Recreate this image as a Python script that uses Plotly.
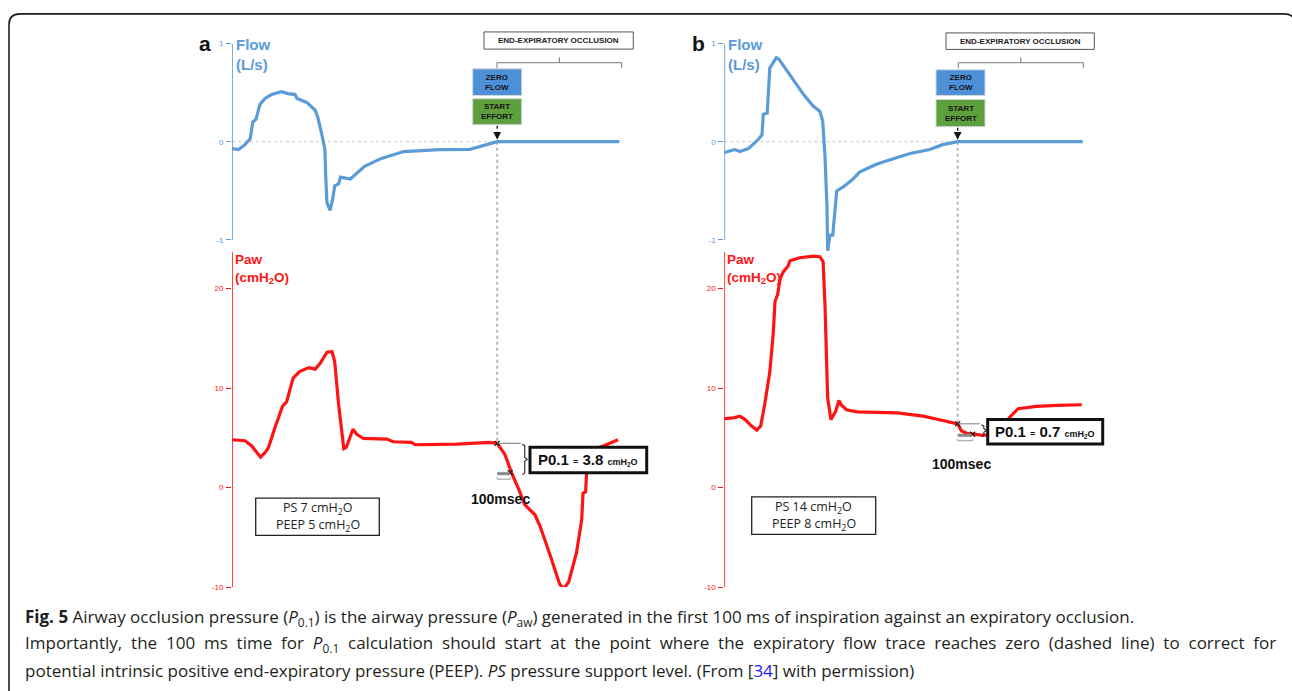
import plotly.graph_objects as go

# ---------------- data (time in s, flow in L/s, Paw in cmH2O) ----------------
flow_a_t = [0, 0.05, 0.10, 0.14, 0.16, 0.185, 0.215, 0.254, 0.305, 0.38, 0.43, 0.485, 0.50, 0.575,
            0.64, 0.66, 0.69, 0.715, 0.72, 0.73, 0.755, 0.775, 0.79, 0.82, 0.835, 0.91, 1.02, 1.15,
            1.32, 1.6, 1.83, 1.91, 2.04, 2.98]
flow_a = [-0.07, -0.08, -0.03, 0.03, 0.20, 0.23, 0.38, 0.44, 0.48, 0.51, 0.49, 0.48, 0.44, 0.40,
          0.32, 0.25, 0.08, -0.08, -0.32, -0.62, -0.70, -0.58, -0.45, -0.43, -0.36, -0.38, -0.25, -0.17,
          -0.10, -0.08, -0.077, -0.05, 0.0, 0.0]

paw_a_t = [0, 0.10, 0.15, 0.22, 0.254, 0.28, 0.33, 0.39, 0.42, 0.47, 0.52, 0.59, 0.64, 0.68, 0.73,
           0.77, 0.79, 0.82, 0.86, 0.88, 0.93, 0.96, 1.01, 1.19, 1.24, 1.38, 1.41, 1.73, 1.98, 2.04,
           2.10, 2.15, 2.21, 2.25, 2.33, 2.37, 2.45, 2.52, 2.55, 2.59, 2.65, 2.69, 2.70, 2.72, 2.73,
           2.75, 2.86, 2.97]
paw_a = [4.8, 4.7, 4.2, 3.05, 3.5, 4.0, 6.0, 8.2, 8.6, 11.0, 11.65, 12.05, 11.9, 12.5, 13.6,
         13.65, 12.65, 8.35, 3.9, 4.05, 5.85, 5.35, 4.93, 4.87, 4.6, 4.54, 4.3, 4.37, 4.54, 4.44,
         3.3, 1.5, -0.3, -1.7, -2.74, -3.9, -6.9, -9.7, -10.2, -9.5, -6.55, -3.24, -0.6, -0.43, 2.06,
         3.7, 4.2, 4.8]

flow_b_t = [0, 0.08, 0.12, 0.185, 0.26, 0.29, 0.30, 0.33, 0.35, 0.377, 0.40, 0.42, 0.505, 0.61,
            0.685, 0.735, 0.757, 0.775, 0.79, 0.795, 0.813, 0.834, 0.865, 0.915, 0.99, 1.04, 1.12,
            1.17, 1.33, 1.43, 1.58, 1.68, 1.795, 2.757]
flow_b = [-0.11, -0.08, -0.10, -0.07, 0.02, 0.07, 0.28, 0.29, 0.75, 0.81, 0.855, 0.84, 0.68, 0.48,
          0.36, 0.31, 0.21, -0.16, -0.67, -1.11, -0.95, -0.95, -0.50, -0.46, -0.38, -0.31, -0.26,
          -0.23, -0.16, -0.12, -0.08, -0.03, 0.0, 0.0]

paw_b_t = [0, 0.07, 0.12, 0.16, 0.21, 0.25, 0.28, 0.31, 0.35, 0.377, 0.39, 0.41, 0.43, 0.455, 0.49,
           0.505, 0.58, 0.685, 0.735, 0.76, 0.775, 0.79, 0.795, 0.82, 0.857, 0.882, 0.90, 0.94, 1.02,
           1.33, 1.53, 1.68, 1.795, 1.825, 1.865, 1.99, 2.10, 2.16, 2.19, 2.26, 2.35, 2.40, 2.56, 2.75]
paw_b = [6.93, 7.0, 7.17, 6.83, 6.18, 5.78, 6.18, 8.3, 11.6, 15.6, 18.7, 19.4, 21.0, 21.7, 22.25,
         22.8, 23.1, 23.25, 23.2, 22.7, 18.2, 11.6, 9.0, 6.83, 7.66, 8.75, 8.3, 7.82, 7.6,
         7.5, 7.17, 6.73, 6.4, 5.68, 5.45, 5.25, 5.4, 6.3, 7.0, 7.92, 8.06, 8.16, 8.26, 8.32]

# zero-flow / occlusion time and the 100 ms points (start, +100 ms)
occl_a_t = [2.04, 2.14]
occl_a_p = [4.44, 1.49]
occl_b_t = [1.795, 1.91]
occl_b_p = [6.4, 5.35]

p01_labels = ["3.8", "0.7"]
ps_labels = [("7", "5"), ("14", "8")]
flow_ticks = [-1, 0, 1]
paw_ticks = [-10, 0, 10, 20]

# ---------------- style ----------------
W, H = 1292, 691
BLUE = "#5B9BD8"
RED = "#FF1414"
FONT = "Liberation Sans, Arial, sans-serif"


def fx(p):
    return p / W


def fy(p):
    return 1 - p / H


def ppath(points):
    s = ""
    for i, (x, y) in enumerate(points):
        s += ("M" if i == 0 else " L") + f"{fx(x):.5f},{fy(y):.5f}"
    return s


def note(px, py, text, size, color, family=FONT, xa="center", ya="middle", align="center"):
    return dict(xref="paper", yref="paper", x=fx(px), y=fy(py), xanchor=xa, yanchor=ya,
                align=align, showarrow=False, text=text,
                font=dict(size=size, color=color, family=family))


fig = go.Figure()
line_w = 3.2
fig.add_trace(go.Scatter(x=flow_a_t, y=flow_a, xaxis="x", yaxis="y", mode="lines",
                         line=dict(color=BLUE, width=line_w), hoverinfo="skip"))
fig.add_trace(go.Scatter(x=flow_b_t, y=flow_b, xaxis="x2", yaxis="y2", mode="lines",
                         line=dict(color=BLUE, width=line_w), hoverinfo="skip"))
fig.add_trace(go.Scatter(x=paw_a_t, y=paw_a, xaxis="x3", yaxis="y3", mode="lines",
                         line=dict(color=RED, width=line_w), hoverinfo="skip"))
fig.add_trace(go.Scatter(x=paw_b_t, y=paw_b, xaxis="x4", yaxis="y4", mode="lines",
                         line=dict(color=RED, width=line_w), hoverinfo="skip"))
fig.add_trace(go.Scatter(x=occl_a_t, y=occl_a_p, xaxis="x3", yaxis="y3", mode="markers",
                         marker=dict(symbol="x-thin", size=5, line=dict(color="#111", width=1.2)),
                         hoverinfo="skip"))
fig.add_trace(go.Scatter(x=occl_b_t, y=occl_b_p, xaxis="x4", yaxis="y4", mode="markers",
                         marker=dict(symbol="x-thin", size=5, line=dict(color="#111", width=1.2)),
                         hoverinfo="skip"))

xa_dom = [232 / W, 650 / W]
xb_dom = [724.3 / W, 1110 / W]
xa_rng = [0, 418 / 130]
xb_rng = [0, 385.7 / 130]
flow_dom = [fy(251), fy(40)]
paw_dom = [fy(590.7), fy(251)]


def yax(dom, rng, ticks, color, anchor):
    return dict(domain=dom, range=rng, anchor=anchor, showgrid=False, zeroline=False,
                showline=False, ticks="outside", ticklen=5, tickwidth=1, tickcolor=color,
                tickvals=ticks, ticktext=[str(t) for t in ticks],
                tickfont=dict(size=8, color=color, family=FONT), ticklabelstandoff=1)


hidden = dict(visible=False, showgrid=False, zeroline=False)
fig.update_layout(
    width=W, height=H, margin=dict(l=0, r=0, t=0, b=0),
    paper_bgcolor="white", plot_bgcolor="rgba(0,0,0,0)", showlegend=False,
    font=dict(family=FONT),
    xaxis=dict(domain=xa_dom, range=xa_rng, anchor="y", **hidden),
    xaxis2=dict(domain=xb_dom, range=xb_rng, anchor="y2", **hidden),
    xaxis3=dict(domain=xa_dom, range=xa_rng, anchor="y3", **hidden),
    xaxis4=dict(domain=xb_dom, range=xb_rng, anchor="y4", **hidden),
    yaxis=yax(flow_dom, [-1.12, 1], flow_ticks, BLUE, "x"),
    yaxis2=yax(flow_dom, [-1.12, 1], flow_ticks, BLUE, "x2"),
    yaxis3=yax(paw_dom, [-10, 23.7], paw_ticks, RED, "x3"),
    yaxis4=yax(paw_dom, [-10, 23.7], paw_ticks, RED, "x4"),
)

shapes = []
ann = []

# outer rounded frame
shapes.append(dict(type="path", xref="paper", yref="paper",
                   path=f"M{fx(9)},{fy(705)} L{fx(9)},{fy(21)} Q{fx(9)},{fy(10)} {fx(20)},{fy(10)} "
                        f"L{fx(1284)},{fy(10)} Q{fx(1295)},{fy(10)} {fx(1295)},{fy(21)} L{fx(1295)},{fy(705)}",
                   line=dict(color="#1e1e1e", width=1.6)))

panels = [
    dict(xf="x", yf="y", xp="x3", yp="y3", ax=232, t0=occl_a_t[0], p0=occl_a_p[0],
         t1=occl_a_t[1], p1=occl_a_p[1], letter="a", lx=205,
         eeo=(484, 633.3, 28.3, 45.7), br=(497, 621.7), zf=(472.7, 521.7, 65.7, 92.7),
         se=(472.7, 521.7, 96, 122.3), ps=(255.7, 379.3, 500.7, 538.3),
         p01=(530, 646.7, 449, 475), brace_x=2.24, msec=(500, 502), p01txt=p01_labels[0],
         pslab=ps_labels[0]),
    dict(xf="x2", yf="y2", xp="x4", yp="y4", ax=724.3, t0=occl_b_t[0], p0=occl_b_p[0],
         t1=occl_b_t[1], p1=occl_b_p[1], letter="b", lx=698,
         eeo=(946, 1094.3, 29.3, 46), br=(958.3, 1083.3), zf=(936, 985, 66.7, 92.7),
         se=(936, 985, 96.7, 124.3), ps=(751.7, 875.7, 499.3, 537.3),
         p01=(987.7, 1102.7, 421, 445.7), brace_x=1.985, msec=(961.7, 466), p01txt=p01_labels[1],
         pslab=ps_labels[1]),
]

for P in panels:
    xf, yf, xp, yp = P["xf"], P["yf"], P["xp"], P["yp"]
    # axis lines
    shapes.append(dict(type="line", xref=xf, yref=yf, x0=0, x1=0, y0=-1, y1=1,
                       line=dict(color=BLUE, width=1.6)))
    shapes.append(dict(type="line", xref=xp, yref=yp, x0=0, x1=0, y0=-10, y1=23.7,
                       line=dict(color=RED, width=1.6)))
    # zero-flow dotted baseline
    shapes.append(dict(type="line", xref=xf, yref=yf, x0=0, x1=P["t0"], y0=0, y1=0,
                       line=dict(color="#c8c8c8", width=1, dash="dot"), layer="below"))
    # vertical dotted occlusion line: from flow zero to Paw point
    shapes.append(dict(type="line", xref=xf, yref=yf, x0=P["t0"], x1=P["t0"], y0=0, y1=-1.12,
                       line=dict(color="#b5b5b5", width=2, dash="dot"), layer="below"))
    shapes.append(dict(type="line", xref=xp, yref=yp, x0=P["t0"], x1=P["t0"], y0=23.7, y1=P["p0"],
                       line=dict(color="#b5b5b5", width=2, dash="dot"), layer="below"))
    # P0.1 helper lines
    shapes.append(dict(type="line", xref=xp, yref=yp, x0=P["t0"], x1=P["brace_x"] - 0.02,
                       y0=P["p0"], y1=P["p0"], line=dict(color="#7a7a7a", width=1)))
    shapes.append(dict(type="line", xref=xp, yref=yp, x0=P["t0"], x1=P["t1"] - 0.005,
                       y0=P["p1"] - 0.1, y1=P["p1"] - 0.1, line=dict(color="#8a8a8a", width=3)))
    shapes.append(dict(type="path", xref=xp, yref=yp,
                       path=f"M{P['t0']},{P['p1'] - 0.45} L{P['t0']},{P['p1'] - 0.65} "
                            f"L{P['t1']},{P['p1'] - 0.65} L{P['t1']},{P['p1'] - 0.45}",
                       line=dict(color="#9a9a9a", width=1)))
    # curly brace (vertical) drawn in pixel space
    bx = P["ax"] + P["brace_x"] * 130
    ytop = 490.7 - P["p0"] * 10.07
    ybot = 490.7 - (P["p1"] - 0.1) * 10.07
    ym = (ytop + ybot) / 2
    shapes.append(dict(type="path", xref="paper", yref="paper",
                       path=ppath([(bx - 1, ytop), (bx + 1.5, ytop + 1.5), (bx + 1.5, ym - 2),
                                   (bx + 4, ym), (bx + 1.5, ym + 2), (bx + 1.5, ybot - 1.5),
                                   (bx - 1, ybot)]),
                       line=dict(color="#333", width=1.2)))
    # P0.1 box
    x0, x1, y0, y1 = P["p01"]
    shapes.append(dict(type="rect", xref="paper", yref="paper", x0=fx(x0), x1=fx(x1),
                       y0=fy(y1), y1=fy(y0), fillcolor="white", line=dict(color="#111", width=3)))
    ann.append(note((x0 + x1) / 2, (y0 + y1) / 2,
                    f"<b>P0.1 <span style='font-size:9px'>=</span> {P['p01txt']} "
                    f"<span style='font-size:9px'>cmH<sub>2</sub>O</span></b>", 15, "#111"))
    ann.append(note(P["msec"][0], P["msec"][1], "<b>100msec</b>", 14, "#111"))
    # PS / PEEP box
    x0, x1, y0, y1 = P["ps"]
    shapes.append(dict(type="rect", xref="paper", yref="paper", x0=fx(x0), x1=fx(x1),
                       y0=fy(y1), y1=fy(y0), line=dict(color="#222", width=1.3)))
    xm = (x0 + x1) / 2
    ann.append(note(xm, y0 + 10.5, f"PS {P['pslab'][0]} cmH<sub>2</sub>O", 12.5, "#222",
                    family="Open Sans, sans-serif"))
    ann.append(note(xm, y0 + 28, f"PEEP {P['pslab'][1]} cmH<sub>2</sub>O", 12.5, "#222",
                    family="Open Sans, sans-serif"))
    # END-EXPIRATORY OCCLUSION box + bracket
    x0, x1, y0, y1 = P["eeo"]
    shapes.append(dict(type="rect", xref="paper", yref="paper", x0=fx(x0), x1=fx(x1),
                       y0=fy(y1), y1=fy(y0), line=dict(color="#555", width=1)))
    ann.append(note((x0 + x1) / 2, (y0 + y1) / 2, "<b>END-EXPIRATORY OCCLUSION</b>", 8, "#222"))
    bl, brr = P["br"]
    bm = (bl + brr) / 2
    shapes.append(dict(type="path", xref="paper", yref="paper",
                       path=ppath([(bl, 65), (bl, 59.5), (brr, 59.5), (brr, 65)]),
                       line=dict(color="#777", width=1)))
    shapes.append(dict(type="line", xref="paper", yref="paper", x0=fx(bm), x1=fx(bm),
                       y0=fy(59.5), y1=fy(54), line=dict(color="#777", width=1)))
    # ZERO FLOW / START EFFORT boxes
    for (bx0, bx1, by0, by1), fill, txt in [(P["zf"], "#4E90D8", "<b>ZERO<br>FLOW</b>"),
                                           (P["se"], "#5EA03E", "<b>START<br>EFFORT</b>")]:
        shapes.append(dict(type="rect", xref="paper", yref="paper", x0=fx(bx0), x1=fx(bx1),
                           y0=fy(by1), y1=fy(by0), fillcolor=fill,
                           line=dict(color="#cfd8dc", width=1)))
        ann.append(note((bx0 + bx1) / 2, (by0 + by1) / 2, txt, 8, "#151515"))
    # dotted arrow from START EFFORT to zero-flow point
    sx = P["ax"] + P["t0"] * 130
    shapes.append(dict(type="line", xref="paper", yref="paper", x0=fx(sx), x1=fx(sx),
                       y0=fy(P["se"][3] + 1), y1=fy(131),
                       line=dict(color="#111", width=1.3, dash="dot")))
    ann.append(dict(xref=xf, yref=yf, x=P["t0"], y=0.02, ax=0, ay=-6, showarrow=True,
                    arrowhead=2, arrowsize=1.2, arrowwidth=1.3, arrowcolor="#111", text=""))
    # panel letter and axis titles
    ann.append(note(P["lx"], 40, f"<b>{P['letter']}</b>", 21, "#111"))
    ann.append(note(P["ax"] + 2, 30, "<b>Flow<br>(L/s)</b>", 15, BLUE, xa="left", ya="top",
                    align="left"))
    ann.append(note(P["ax"] + 1, 249, "<b>Paw<br>(cmH<sub>2</sub>O)</b>", 13.5, RED, xa="left",
                    ya="top", align="left"))

# caption (line 2 is justified in the reference: widen its word gaps)
cap_family = "Open Sans, sans-serif"
line2 = ("Importantly, the 100 ms time for <i>P</i><sub>0.1</sub> calculation should start at the point "
         "where the expiratory flow trace reaches zero (dashed line) to correct for")
line2 = line2.replace(" ", "\u00a0 ")
cap_lines = [
    "<b>Fig. 5</b> Airway occlusion pressure (<i>P</i><sub>0.1</sub>) is the airway pressure "
    "(<i>P</i><sub>aw</sub>) generated in the first 100 ms of inspiration against an expiratory occlusion.",
    line2,
    "potential intrinsic positive end-expiratory pressure (PEEP). <i>PS</i> pressure support level. "
    "(From [<span style='color:#1a1aff'>34</span>] with permission)",
]
for line, yy in zip(cap_lines, [622, 648, 675]):
    ann.append(note(23, yy, line, 17, "#231f20", family=cap_family, xa="left", align="left"))

fig.update_layout(shapes=shapes, annotations=ann)
fig.write_html("out.html", config={"displayModeBar": False},
               post_script="document.body.style.margin='0';document.body.style.overflow='hidden';")
